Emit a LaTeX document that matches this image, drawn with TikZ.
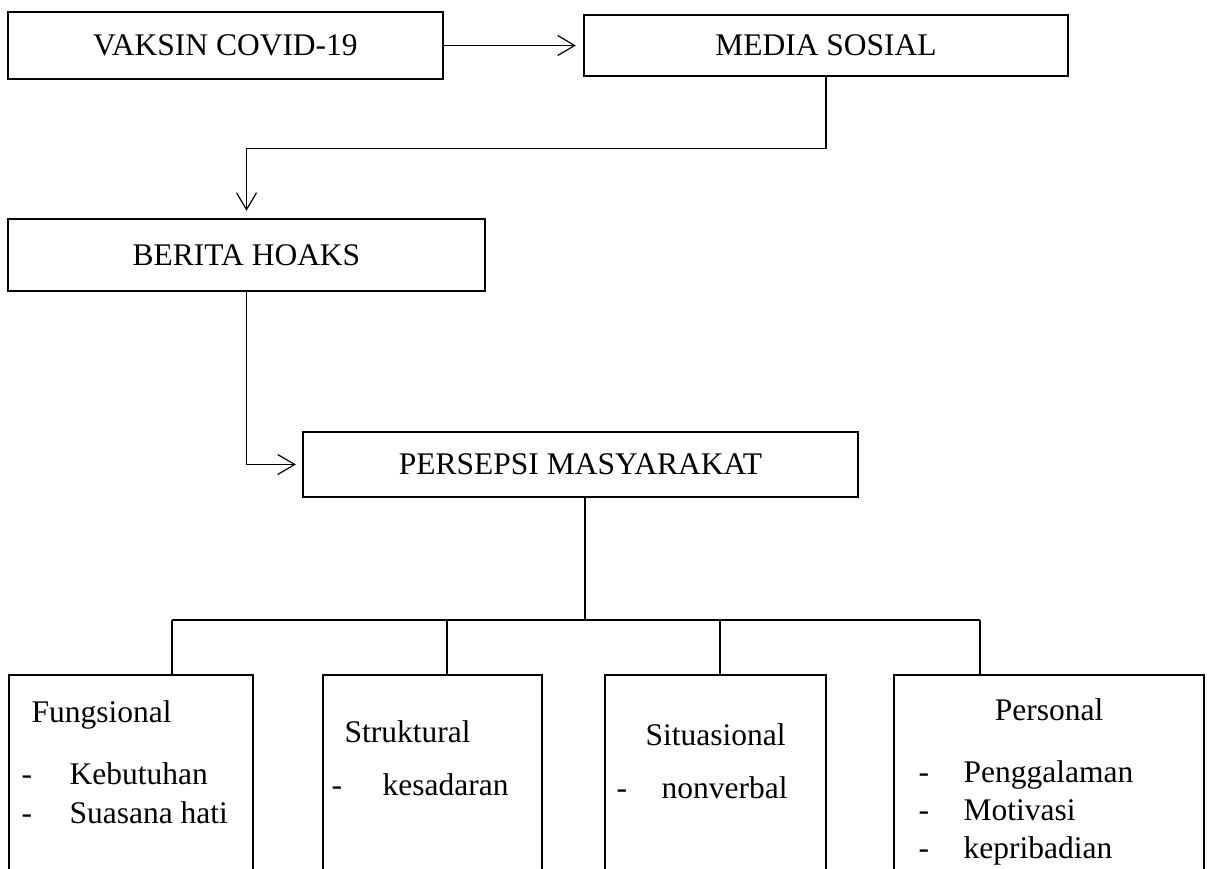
\documentclass[tikz,border=0pt]{standalone}
\usepackage{fontspec}
\setmainfont{Liberation Serif}
\usepackage{tikz}
\usetikzlibrary{arrows.meta}
\newcommand{\itemdash}[1]{\makebox[#1][l]{-}}
\tikzset{box/.style={draw, rectangle, line width=2.3pt, inner sep=0pt},
  txt/.style={draw=none, inner sep=0pt, anchor=base west}}

\begin{document}
\begin{tikzpicture}[x=1pt, y=-1pt, line width=1.2pt,
  every node/.style={font=\fontsize{31.5}{38}\selectfont},
  >={Straight Barb[length=17pt, width=20pt]}]
  \useasboundingbox (0,0) rectangle (1209,869);
  \clip (0,0) rectangle (1209,869);
  % Top chain
  \node[box, minimum width=435pt, minimum height=67pt] (vaksin) at (225.5,45.5) {VAKSIN COVID-19};
  \node[box, minimum width=484pt, minimum height=61pt] (media) at (826,45.5) {MEDIA SOSIAL};
  \node[box, minimum width=477pt, minimum height=72pt] (berita) at (246.5,255) {BERITA HOAKS};
  \node[box, minimum width=555pt, minimum height=65pt] (persepsi) at (580.5,464.5) {PERSEPSI MASYARAKAT};
  \draw[->, shorten >=7pt] (vaksin) -- (media);
  \draw[->, shorten >=7pt] (media.south) -- ++(0,71) -| (berita.north);
  \draw[->, shorten >=6pt] (berita.south) |- (persepsi.west);
  % Bottom boxes
  \node[box, minimum width=244pt, minimum height=285pt] (fung) at (131,817.5) {};
  \node[box, minimum width=219pt, minimum height=285pt] (strk) at (432.5,817.5) {};
  \node[box, minimum width=221pt, minimum height=285pt] (situ) at (715.5,817.5) {};
  \node[box, minimum width=310pt, minimum height=285pt] (pers) at (1049,817.5) {};
  % Branches
  \coordinate (hub) at (585,620);
  \coordinate (busL) at (172,620);
  \coordinate (busR) at (980,620);
  \draw ([xshift=4.5pt]persepsi.south) -- (hub);
  \draw (busL) -- (busR);
  \foreach \x/\b in {172/fung, 447/strk, 720/situ, 980/pers}
    \draw (\x,620) -- (\x,620 |- \b.north);
  % Box texts
  \node[txt] (fungT) at (31,722) {Fungsional};
  \node[txt] (fungA) at (21,784) {\itemdash{48pt}Kebutuhan};
  \node[txt] (fungB) at (21,823) {\itemdash{48pt}Suasana hati};
  \node[txt] (strkT) at (344,742) {Struktural};
  \node[txt] (strkA) at (331,795) {\itemdash{51pt}kesadaran};
  \node[txt] (situT) at (645,745) {Situasional};
  \node[txt] (situA) at (616,798) {\itemdash{45pt}nonverbal};
  \node[txt, anchor=base] (persT) at (1049,720) {Personal};
  \node[txt] (persA) at (918,782) {\itemdash{45pt}Penggalaman};
  \node[txt] (persB) at (918,820) {\itemdash{45pt}Motivasi};
  \node[txt] (persC) at (918,858) {\itemdash{45pt}kepribadian};
\end{tikzpicture}
\end{document}
